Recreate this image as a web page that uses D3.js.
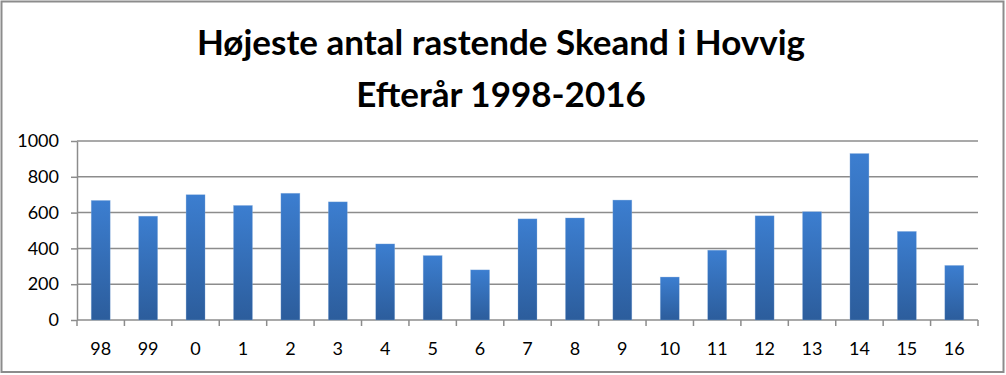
<!DOCTYPE html>
<html>
<head>
<meta charset="UTF-8">
<script src="https://d3js.org/d3.v7.min.js"></script>
<style>
    body { margin: 0; background: #fff; }
    svg { display: block; }
</style>
</head>
<body>
<div id="chart"></div>
<script>
    // data
    const years = ["98", "99", "0", "1", "2", "3", "4", "5", "6", "7", "8", "9", "10", "11", "12", "13", "14", "15", "16"];
    const counts = [668, 580, 700, 640, 708, 660, 425, 360, 280, 565, 570, 670, 240, 390, 582, 605, 930, 495, 305];
    const yTicks = [0, 200, 400, 600, 800, 1000];
    const titleLines = ["Højeste antal rastende Skeand i Hovvig", "Efterår 1998-2016"];

    const W = 1006, H = 375;
    const margin = {top: 141, right: 28, bottom: 55, left: 77},
        width = W - margin.left - margin.right,
        height = H - margin.top - margin.bottom;

    const root = d3.select("#chart")
        .append("svg")
        .attr("width", W)
        .attr("height", H);

    // bar gradient
    const grad = root.append("defs").append("linearGradient")
        .attr("id", "barGrad")
        .attr("x1", 0).attr("y1", 0).attr("x2", 0).attr("y2", 1);
    grad.append("stop").attr("offset", "0%").attr("stop-color", "#3c7ed0");
    grad.append("stop").attr("offset", "100%").attr("stop-color", "#2c5d9c");

    // outer frame
    root.append("rect")
        .attr("x", 1.5).attr("y", 1.5)
        .attr("width", 1002).attr("height", 370.5)
        .attr("fill", "none")
        .attr("stroke", "#8c8c8c")
        .attr("stroke-width", 2);

    // title
    root.append("g")
        .selectAll("text")
        .data(titleLines)
        .join("text")
        .attr("x", 501)
        .attr("y", (d, i) => 55 + i * 52)
        .attr("text-anchor", "middle")
        .style("font-family", "Lato, 'Open Sans', sans-serif")
        .style("font-weight", 700)
        .style("font-size", "35px")
        .style("fill", "#000")
        .text(d => d);

    const svg = root.append("g")
        .attr("transform", `translate(${margin.left},${margin.top})`);

    const x = d3.scaleBand()
        .domain(years)
        .range([0, width])
        .paddingInner(0.6)
        .paddingOuter(0.3);

    const y = d3.scaleLinear()
        .domain([0, 1000])
        .range([height, 0]);

    // gridlines
    svg.append("g")
        .selectAll("line")
        .data(yTicks.slice(1))
        .join("line")
        .attr("x1", 0).attr("x2", width)
        .attr("y1", d => y(d)).attr("y2", d => y(d))
        .attr("stroke", "#8c8c8c")
        .attr("stroke-width", 1.5);

    // y axis
    const yAxis = svg.append("g")
        .call(d3.axisLeft(y).tickValues(yTicks).tickFormat(d3.format("d"))
            .tickSize(6).tickPadding(12).tickSizeOuter(0));
    yAxis.select(".domain").attr("stroke", "#8c8c8c").attr("stroke-width", 1.5);
    yAxis.selectAll(".tick line").attr("stroke", "#8c8c8c").attr("stroke-width", 1.5);
    yAxis.selectAll(".tick text")
        .style("font-family", "Lato, 'Open Sans', sans-serif")
        .style("font-size", "18px")
        .attr("fill", "#000");

    // x axis: ticks sit between categories
    const xAxis = svg.append("g")
        .attr("transform", `translate(0,${height})`);
    xAxis.append("line")
        .attr("x1", 0).attr("x2", width)
        .attr("stroke", "#8c8c8c").attr("stroke-width", 1.5);
    xAxis.selectAll(".sep")
        .data(d3.range(years.length + 1))
        .join("line")
        .attr("class", "sep")
        .attr("x1", i => i * width / years.length)
        .attr("x2", i => i * width / years.length)
        .attr("y1", 0).attr("y2", 6)
        .attr("stroke", "#8c8c8c").attr("stroke-width", 1.5);
    xAxis.selectAll("text")
        .data(years)
        .join("text")
        .attr("x", d => x(d) + x.bandwidth() / 2)
        .attr("y", 35)
        .attr("text-anchor", "middle")
        .style("font-family", "Lato, 'Open Sans', sans-serif")
        .style("font-size", "18px")
        .attr("fill", "#000")
        .text(d => d);

    // bars
    svg.append("g")
        .selectAll("rect")
        .data(counts)
        .join("rect")
        .attr("x", (d, i) => x(years[i]))
        .attr("y", d => y(d))
        .attr("width", x.bandwidth())
        .attr("height", d => height - y(d))
        .attr("fill", "url(#barGrad)")
        .attr("stroke", "#8fb3e0")
        .attr("stroke-opacity", 0.5)
        .attr("stroke-width", 0.6);
</script>
</body>
</html>
